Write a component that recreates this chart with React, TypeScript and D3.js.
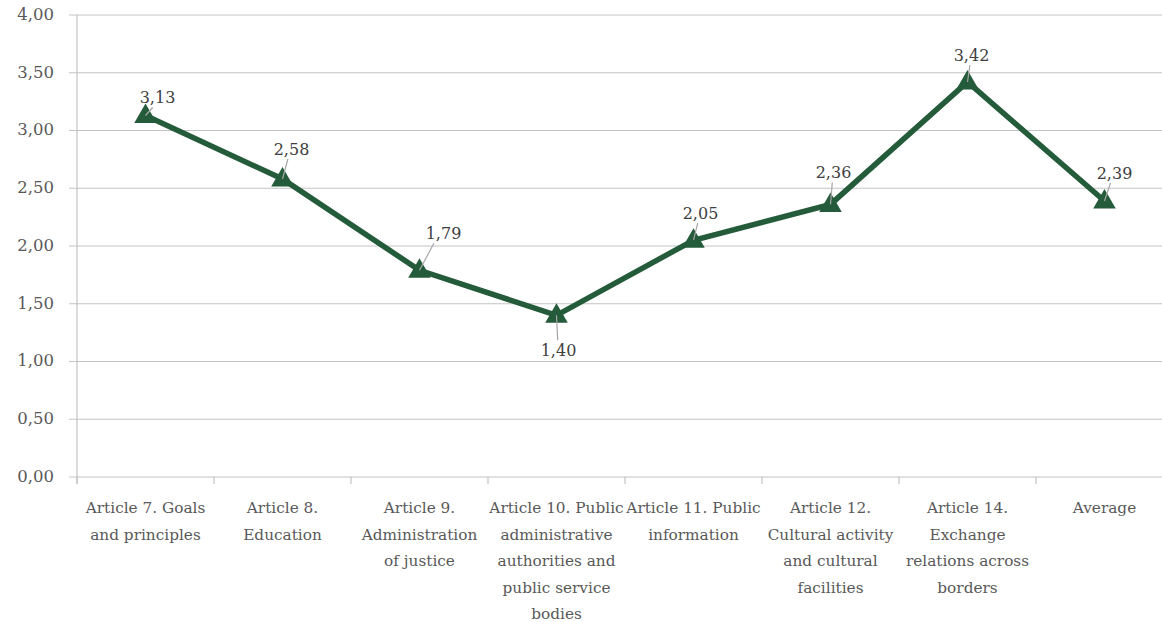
import React, { useEffect, useRef } from "react";
import * as d3 from "d3";

const categories: string[] = [
  "Article 7. Goals\nand principles",
  "Article 8.\nEducation",
  "Article 9.\nAdministration\nof justice",
  "Article 10. Public\nadministrative\nauthorities and\npublic service\nbodies",
  "Article 11. Public\ninformation",
  "Article 12.\nCultural activity\nand cultural\nfacilities",
  "Article 14.\nExchange\nrelations across\nborders",
  "Average",
];
const values: number[] = [3.13, 2.58, 1.79, 1.4, 2.05, 2.36, 3.42, 2.39];
const yTicks: number[] = [0, 0.5, 1, 1.5, 2, 2.5, 3, 3.5, 4];
// label offsets relative to point (layout)
const labelDx: number[] = [12, 9, 24, 2, 7, 3, 4, 10];
const labelDy: number[] = [-18, -30, -37, 35, -27, -32, -27, -28];

const W = 1162;
const H = 622;
const M = { left: 77, right: 1173, top: 15, bottom: 477 };
const FONT = "DejaVu Serif";
const fmt = (v: number) => v.toFixed(2).replace(".", ",");

export default function App() {
  const ref = useRef<SVGSVGElement>(null);
  useEffect(() => {
    const svg = d3.select(ref.current);
    svg.selectAll("*").remove();
    const x = d3.scaleBand<number>().domain(d3.range(categories.length)).range([M.left, M.right]);
    const y = d3.scaleLinear().domain([0, 4]).range([M.bottom, M.top]);
    const cx = (i: number) => (x(i) as number) + x.bandwidth() / 2;

    // gridlines
    svg.append("g").selectAll("line").data(yTicks).join("line")
      .attr("x1", M.left - 8).attr("x2", W)
      .attr("y1", (d) => y(d)).attr("y2", (d) => y(d))
      .attr("stroke", "#c3c3c3").attr("stroke-width", 1.2);
    // y axis line
    svg.append("line").attr("x1", M.left).attr("x2", M.left)
      .attr("y1", M.top).attr("y2", M.bottom + 7)
      .attr("stroke", "#c3c3c3").attr("stroke-width", 1.2);
    // y labels
    svg.append("g").selectAll("text").data(yTicks).join("text")
      .attr("x", 54).attr("y", (d) => y(d)).attr("dy", "0.3em")
      .attr("text-anchor", "end").attr("font-family", FONT).attr("font-size", 16.5)
      .attr("fill", "#595959").text((d) => fmt(d));
    // x ticks
    svg.append("g").selectAll("line").data(d3.range(categories.length + 1)).join("line")
      .attr("x1", (i) => M.left + i * x.bandwidth()).attr("x2", (i) => M.left + i * x.bandwidth())
      .attr("y1", M.bottom).attr("y2", M.bottom + 7)
      .attr("stroke", "#c3c3c3").attr("stroke-width", 1.2);
    // x labels
    const xl = svg.append("g").selectAll("text").data(categories).join("text")
      .attr("text-anchor", "middle").attr("font-family", FONT).attr("font-size", 15.3)
      .attr("fill", "#595959");
    xl.each(function (d, i) {
      const t = d3.select(this);
      d.split("\n").forEach((line, k) => {
        t.append("tspan").attr("x", cx(i)).attr("y", 513 + k * 26.5).text(line);
      });
    });

    // line
    const line = d3.line<number>().x((_, i) => cx(i)).y((d) => y(d));
    svg.append("path").datum(values).attr("d", line)
      .attr("fill", "none").attr("stroke", "#245b3a").attr("stroke-width", 5.5)
      .attr("stroke-linejoin", "miter");
    // markers
    const tri = d3.symbol().type(d3.symbolTriangle).size(220);
    svg.append("g").selectAll("path").data(values).join("path")
      .attr("d", tri as any)
      .attr("transform", (d, i) => `translate(${cx(i)},${y(d) + 1})`)
      .attr("fill", "#245b3a");
    // leader lines
    svg.append("g").selectAll("line").data(values).join("line")
      .attr("x1", (d, i) => cx(i)).attr("y1", (d) => y(d))
      .attr("x2", (d, i) => cx(i) + labelDx[i] * 0.6)
      .attr("y2", (d, i) => y(d) + labelDy[i] + (labelDy[i] < 0 ? 10 : -10))
      .attr("stroke", "#a6a6a6").attr("stroke-width", 1.2);
    // data labels
    svg.append("g").selectAll("text").data(values).join("text")
      .attr("x", (d, i) => cx(i) + labelDx[i]).attr("y", (d, i) => y(d) + labelDy[i])
      .attr("dy", "0.35em").attr("text-anchor", "middle")
      .attr("font-family", FONT).attr("font-size", 16).attr("fill", "#404040")
      .text((d) => fmt(d));
  }, []);
  return (
    <svg ref={ref} width={W} height={H}
      style={{ position: "absolute", left: 0, top: 0, background: "#fff" }} />
  );
}
